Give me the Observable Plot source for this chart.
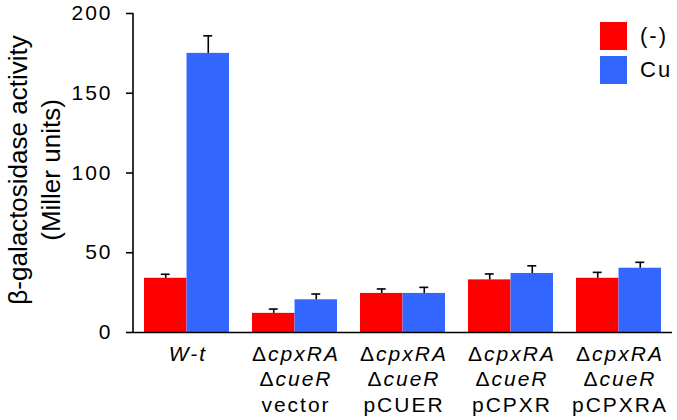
<!DOCTYPE html>
<html>
<head>
<meta charset="utf-8">
<script src="https://cdn.jsdelivr.net/npm/d3@7"></script>
<script src="https://cdn.jsdelivr.net/npm/@observablehq/plot@0.6"></script>
<style>
  html, body { margin: 0; padding: 0; background: #fff; }
  #wrap { position: relative; width: 677px; height: 420px; font-family: "Liberation Sans", Arial, sans-serif; }
  #legend { position: absolute; left: 600px; top: 19px; font-size: 22px; color: #000; letter-spacing: 2px; }
  #legend .row { display: flex; align-items: center; height: 34px; }
  #legend .sw { width: 27px; height: 28px; margin-right: 13px; }
  .hs text { letter-spacing: 2px; }
</style>
</head>
<body>
<div id="wrap"><div id="legend"></div></div>
<script>
// ---- data ----
const line1 = ["W-t", "ΔcpxRA", "ΔcpxRA", "ΔcpxRA", "ΔcpxRA"];
const line2 = ["", "ΔcueR", "ΔcueR", "ΔcueR", "ΔcueR"];
const line3 = ["", "vector", "pCUER", "pCPXR", "pCPXRA"];
const conditions = ["(-)", "Cu"];
const colors = ["#ff0000", "#3366ff"];
const minusValues = [34, 12, 24.5, 33, 34];
const minusErr = [2.5, 2.7, 2.8, 3.7, 3.7];
const cuValues = [175, 20.5, 24.5, 37, 40.3];
const cuErr = [11, 3.6, 3.8, 4.8, 3.7];
const yTicks = [0, 50, 100, 150, 200];
const yLabel = "β-galactosidase activity\n(Miller units)";

// ---- build ----
const groups = line1.map((d, i) => [line1[i], line2[i], line3[i]].join("\n"));
const minusRows = groups.map((g, i) => ({group: g, value: minusValues[i], err: minusErr[i]}));
const cuRows = groups.map((g, i) => ({group: g, value: cuValues[i], err: cuErr[i]}));

const width = 677, height = 420;
const marginLeft = 133, marginRight = 5, marginTop = 13, marginBottom = 88;
const paddingInner = 0.213, paddingOuter = 0.1;
const xs = Plot.scale({x: {type: "band", domain: groups, range: [marginLeft, width - marginRight], paddingInner, paddingOuter}});
const bw = xs.bandwidth;
const capHalf = 4.5;

const chart = Plot.plot({
  width, height, marginLeft, marginRight, marginTop, marginBottom,
  style: {fontFamily: '"Liberation Sans", Arial, sans-serif', background: "transparent", overflow: "visible"},
  x: {type: "band", domain: groups, paddingInner, paddingOuter, axis: null},
  y: {domain: [0, 200], axis: null},
  marks: [
    Plot.barY(minusRows, {x: "group", y: "value", fill: colors[0], insetRight: bw / 2}),
    Plot.barY(cuRows, {x: "group", y: "value", fill: colors[1], insetLeft: bw / 2}),
    Plot.ruleX(minusRows, {x: "group", y1: "value", y2: d => d.value + d.err, dx: -bw / 4, stroke: "#000", strokeWidth: 1.6}),
    Plot.ruleX(cuRows, {x: "group", y1: "value", y2: d => d.value + d.err, dx: bw / 4, stroke: "#000", strokeWidth: 1.6}),
    Plot.tickY(minusRows, {x: "group", y: d => d.value + d.err, insetLeft: bw / 4 - capHalf, insetRight: 3 * bw / 4 - capHalf, stroke: "#000", strokeWidth: 1.6}),
    Plot.tickY(cuRows, {x: "group", y: d => d.value + d.err, insetLeft: 3 * bw / 4 - capHalf, insetRight: bw / 4 - capHalf, stroke: "#000", strokeWidth: 1.6}),
    Plot.ruleY([0], {stroke: "#000", strokeWidth: 1.6}),
    Plot.axisY({ticks: yTicks, tickSize: 7, tickPadding: 14, fontSize: 21, label: null, stroke: "#000", strokeWidth: 1.6, fill: "#000", className: "hs"}),
    Plot.text(groups, {x: d => d, text: d => d, frameAnchor: "bottom", lineAnchor: "top", dy: 10, dx: 1, fontSize: 21, lineHeight: 1.22, fill: "#000", ariaDescription: "x-labels", className: "hs"}),
    Plot.text([yLabel], {text: d => d, frameAnchor: "left", textAnchor: "middle", rotate: -90, lineAnchor: "top", dx: -129.5, dy: -3, fontSize: 26, lineHeight: 1.27, fill: "#000"})
  ]
});

// y-axis line drawn from the library's y scale
const ysc = chart.scale("y");
d3.select(chart).append("line")
  .attr("x1", marginLeft).attr("x2", marginLeft)
  .attr("y1", ysc.apply(0) + 0.8).attr("y2", ysc.apply(200))
  .attr("stroke", "#000").attr("stroke-width", 1.6);

// italic genotype names, upright Δ
const italicLines = new Set([...line1, ...line2].filter(s => s));
d3.select(chart).selectAll('g[aria-description="x-labels"] tspan').each(function() {
  const t = this.textContent;
  if (!italicLines.has(t)) return;
  if (t.startsWith("Δ")) {
    this.textContent = "Δ";
    d3.select(this).append("tspan").attr("font-style", "italic").text(t.slice(1));
  } else {
    d3.select(this).attr("font-style", "italic");
  }
});

document.getElementById("wrap").prepend(chart);

// legend
const legend = d3.select("#legend");
conditions.forEach((c, i) => {
  const row = legend.append("div").attr("class", "row");
  row.append("div").attr("class", "sw").style("background", colors[i]);
  row.append("span").text(c);
});
</script>
</body>
</html>
